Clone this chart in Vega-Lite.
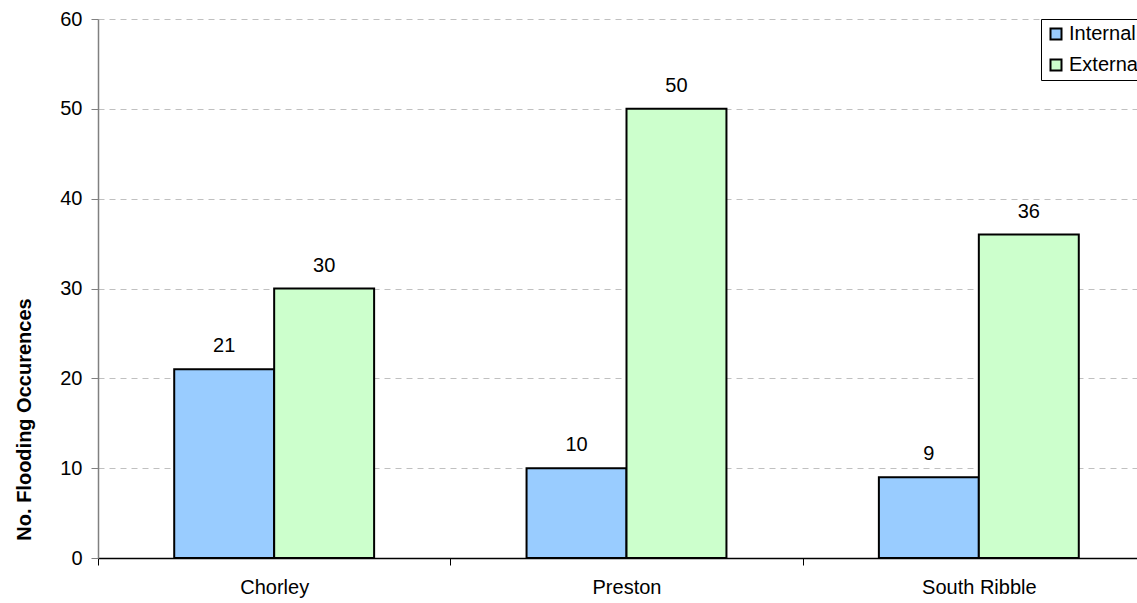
{
  "$schema": "https://vega.github.io/schema/vega-lite/v6.json",
  "width": 1057,
  "height": 539,
  "autosize": {"type": "none"},
  "padding": {"left": 98, "top": 19, "right": 0, "bottom": 45},
  "background": "white",
  "config": {"font": "Liberation Sans", "view": {"stroke": null}},
  "data": {
    "values": [
      {"district": "Chorley", "type": "Internal", "count": 21},
      {"district": "Chorley", "type": "External", "count": 30},
      {"district": "Preston", "type": "Internal", "count": 10},
      {"district": "Preston", "type": "External", "count": 50},
      {"district": "South Ribble", "type": "Internal", "count": 9},
      {"district": "South Ribble", "type": "External", "count": 36}
    ]
  },
  "encoding": {
    "x": {
      "field": "district", "type": "nominal", "sort": null,
      "scale": {"paddingInner": 0, "paddingOuter": 0},
      "axis": {"title": null, "labelAngle": 0, "labelFontSize": 20, "labelColor": "black", "labelPadding": 12,
               "domainColor": "black", "domainWidth": 1.5, "tickColor": "black", "tickBand": "extent", "tickSize": 7}
    },
    "xOffset": {"field": "type", "type": "nominal", "sort": ["Internal", "External"], "scale": {"paddingInner": 0, "paddingOuter": 0.7625}},
    "y": {
      "field": "count", "type": "quantitative",
      "scale": {"domain": [0, 60]},
      "axis": {"title": "No. Flooding Occurences", "titleFontSize": 20, "titleFontWeight": "bold", "titleColor": "black",
               "titleX": -74, "titleY": 400, "titleAlign": "center", "titleBaseline": "middle", "titleAngle": -90,
               "values": [0, 10, 20, 30, 40, 50, 60], "labelFontSize": 20, "labelColor": "black", "labelPadding": 9,
               "domainColor": "#808080", "domainWidth": 1.5, "tickColor": "#808080", "tickSize": 7,
               "grid": true, "gridColor": "#c0c0c0", "gridDash": [6, 5], "gridWidth": 1}
    }
  },
  "layer": [
    {
      "mark": {"type": "bar", "stroke": "black", "strokeWidth": 2},
      "encoding": {
        "color": {
          "field": "type", "type": "nominal",
          "scale": {"domain": ["Internal", "External"], "range": ["#99CCFF", "#CCFFCC"]},
          "legend": {"title": null, "orient": "none", "legendX": 943, "legendY": 0,
                     "symbolType": "square", "symbolSize": 121, "symbolStrokeColor": "black", "symbolStrokeWidth": 2,
                     "labelFontSize": 20, "labelColor": "black", "labelLimit": 300, "labelOffset": 3,
                     "strokeColor": "black", "fillColor": "white", "padding": 5, "rowPadding": 11}
        }
      }
    },
    {
      "mark": {"type": "text", "dy": -23, "fontSize": 20, "color": "black", "baseline": "middle"},
      "encoding": {"text": {"field": "count", "type": "quantitative"}}
    }
  ]
}
